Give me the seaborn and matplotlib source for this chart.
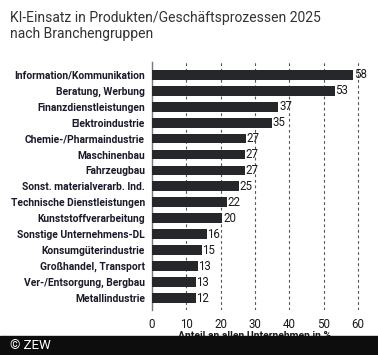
import matplotlib
matplotlib.use("Agg")
import matplotlib.pyplot as plt
import seaborn as sns
import pandas as pd

# data
branchen = [
    "Information/Kommunikation", "Beratung, Werbung", "Finanzdienstleistungen",
    "Elektroindustrie", "Chemie-/Pharmaindustrie", "Maschinenbau", "Fahrzeugbau",
    "Sonst. materialverarb. Ind.", "Technische Dienstleistungen",
    "Kunststoffverarbeitung", "Sonstige Unternehmens-DL", "Konsumgüterindustrie",
    "Großhandel, Transport", "Ver-/Entsorgung, Bergbau", "Metallindustrie",
]
anteil = [58.6, 53.2, 36.8, 34.9, 27.3, 27.0, 27.0, 25.3, 21.8, 20.5, 15.9, 14.5, 13.3, 12.7, 12.7]
anteil_label = [58, 53, 37, 35, 27, 27, 27, 25, 22, 20, 16, 15, 13, 13, 12]
x_ticks = [0, 10, 20, 30, 40, 50, 60]

df = pd.DataFrame({"branche": branchen, "anteil": anteil})

sns.set_style("white")
plt.rcParams["font.family"] = ["Roboto", "DejaVu Sans"]

fig = plt.figure(figsize=(3.78, 3.55), dpi=100)
ax = fig.add_axes([152 / 378, 1 - 310 / 355, (365 - 152) / 378, (310 - 62) / 355])

sns.barplot(data=df, x="anteil", y="branche", color="#26272b", width=0.62,
            saturation=1, linewidth=0, ax=ax, zorder=3)

for i, (v, lab) in enumerate(zip(anteil, anteil_label)):
    ax.text(v + 0.2, i, str(lab), va="center", ha="left", fontsize=8.3,
            color="#1a1a1a")

ax.set_xlim(0, 62)
ax.set_ylim(14.75, -0.8)
ax.set_xticks(x_ticks)
ax.set_xticklabels([str(t) for t in x_ticks], fontsize=8.3, color="#1a1a1a")
ax.tick_params(axis="x", length=0, pad=6)
ax.tick_params(axis="y", length=0, pad=5)
for lbl in ax.get_yticklabels():
    lbl.set_fontsize(7.4)
    lbl.set_fontweight("bold")
    lbl.set_color("#1a1a2a")
ax.set_ylabel("")
ax.set_xlabel("")
for t in x_ticks[1:]:
    ax.axvline(t, color="#555555", linestyle=(0, (2.5, 2.5)), linewidth=0.8, zorder=1)
for s in ["top", "right", "bottom"]:
    ax.spines[s].set_visible(False)
ax.spines["left"].set_color("#777777")
ax.spines["left"].set_linewidth(1.0)

fig.text(10 / 378, 1 - 26 / 355, "KI-Einsatz in Produkten/Geschäftsprozessen 2025\nnach Branchengruppen",
         fontsize=10, color="#333333", va="center", ha="left", linespacing=1.1)

fig.text(0.5 * (152 + 358) / 378, 1 - 336 / 355, "Anteil an allen Unternehmen in %",
         fontsize=7.5, fontweight="bold", color="#1a1a1a", ha="center", va="center")

band = plt.Rectangle((0, 0), 1, 19 / 355, transform=fig.transFigure,
                     color="#0d0d0d", zorder=10)
fig.patches.append(band)
fig.text(10 / 378, 9.5 / 355, "© ZEW", fontsize=9.5, color="white",
         va="center", ha="left", zorder=11)

fig.savefig("out.png", dpi=100)
